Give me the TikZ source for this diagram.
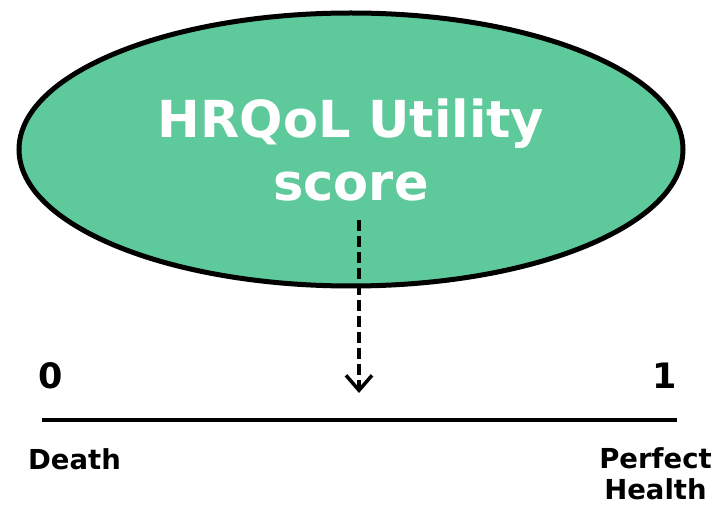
\documentclass[tikz,border=0pt]{standalone}
\usepackage{fontspec}
\setmainfont{DejaVu Sans}
\usetikzlibrary{shapes.geometric,arrows.meta}
\definecolor{utilgreen}{RGB}{94,201,155}

\begin{document}
\begin{tikzpicture}[x=1pt, y=-1pt,
  blob/.style={draw, ellipse, line width=5pt, fill=utilgreen, text=white,
    minimum width=664pt, minimum height=273pt, inner sep=0pt, align=center,
    font=\bfseries\fontsize{51}{63}\selectfont},
  endval/.style={font=\bfseries\fontsize{35}{40}\selectfont},
  endlabel/.style={font=\bfseries\fontsize{27.5}{31.5}\selectfont, align=center, inner sep=0pt}]
\useasboundingbox (0,0) rectangle (716,505);

% utility score
\node[blob] (score) at (351,149.5) {HRQoL Utility\\score};

% scale from death to perfect health
\coordinate (zero) at (42,420);
\coordinate (one) at (677,420);
\draw[line width=4.5pt] (zero) -- (one);
\node[endval] (zerolab) at (50.5,375.5) {0};
\node[endval] (onelab) at (665,375.5) {1};
\node[endlabel, anchor=base] (death) at (74.5,469.5) {Death};
\node[endlabel, anchor=base] (health) at (655.5,500) {Perfect\\Health};

% where the score falls on the scale
\coordinate (pointtop) at (359,220);
\coordinate (pointtip) at (359,393);
\draw[line width=3.5pt, dash pattern=on 11pt off 5pt, -{Straight Barb[length=15pt,width=26pt]}]
  (pointtop) -- (pointtip);

\end{tikzpicture}
\end{document}
